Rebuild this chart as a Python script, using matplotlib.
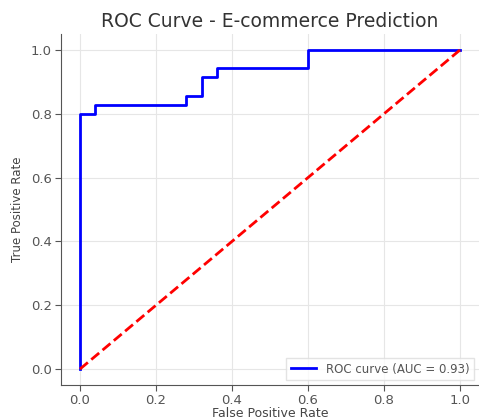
import matplotlib.pyplot as plt

# ROC curve points
fpr = [0.0, 0.0, 0.04, 0.04, 0.28, 0.28, 0.32, 0.32, 0.36, 0.36, 0.60, 0.60, 1.0]
tpr = [0.0, 0.80, 0.80, 0.829, 0.829, 0.857, 0.857, 0.914, 0.914, 0.943, 0.943, 1.0, 1.0]
auc_value = 0.93
chance = [0, 1]

fig = plt.figure(figsize=(4.79, 4.19), dpi=100)
ax = fig.add_axes([61 / 479, 34 / 419, 418 / 479, 351 / 419])

ax.plot(fpr, tpr, color='blue', lw=2, label=f'ROC curve (AUC = {auc_value:.2f})')
ax.plot(chance, chance, color='red', lw=2, linestyle='--')

ax.set_xlim(-0.05, 1.05)
ax.set_ylim(-0.05, 1.05)
ax.set_xticks([0, 0.2, 0.4, 0.6, 0.8, 1.0])
ax.set_yticks([0, 0.2, 0.4, 0.6, 0.8, 1.0])
ax.grid(True, color='#e6e6e6', lw=0.8)
ax.set_axisbelow(True)

for side in ['top', 'right']:
    ax.spines[side].set_visible(False)
for side in ['left', 'bottom']:
    ax.spines[side].set_color('#555555')
ax.tick_params(colors='#555555', labelcolor='#555555', labelsize=9.5, length=4, pad=2.5)

ax.set_title('ROC Curve - E-commerce Prediction', fontsize=13.5, color='#333333', pad=5)
ax.set_xlabel('False Positive Rate', fontsize=9, color='#444444', labelpad=0)
ax.set_ylabel('True Positive Rate', fontsize=8.5, color='#444444', labelpad=5)
ax.legend(loc='lower right', fontsize=8.5, frameon=True, edgecolor='#dddddd', fancybox=False,
          labelcolor='#555555', handlelength=2.2, borderaxespad=0.4)

fig.savefig('out.png', dpi=100)
